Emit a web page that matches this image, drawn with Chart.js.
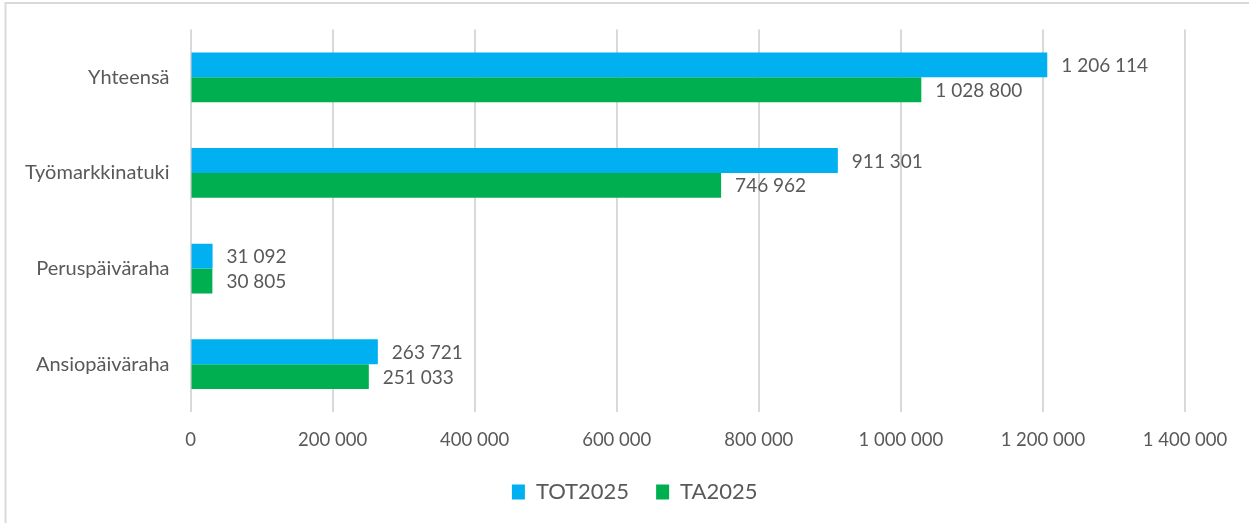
<!DOCTYPE html>
<html>
<head>
<meta charset="utf-8">
<script src="https://cdn.jsdelivr.net/npm/chart.js@4.4.1/dist/chart.umd.min.js"></script>
<style>
  html, body { margin: 0; padding: 0; background: #ffffff; }
  #wrap { width: 1249px; height: 523px; position: relative; }
</style>
</head>
<body>
<div id="wrap"><canvas id="c" width="1249" height="523"></canvas></div>
<script>
const categories = ["Yhteensä", "Työmarkkinatuki", "Peruspäiväraha", "Ansiopäiväraha"];
const seriesNames = ["TOT2025", "TA2025"];
const tot2025 = [1206114, 911301, 31092, 263721];
const ta2025 = [1028800, 746962, 30805, 251033];
const xTicks = [0, 200000, 400000, 600000, 800000, 1000000, 1200000, 1400000];

const TEXT = "#595959";
const FONT = "Lato";

function fmt(v) {
  return String(Math.round(v)).replace(/\B(?=(\d{3})+(?!\d))/g, " ");
}

const frame = {
  id: "frame",
  beforeDraw(chart) {
    const ctx = chart.ctx;
    ctx.save();
    ctx.fillStyle = "#ffffff";
    ctx.fillRect(0, 0, chart.width, chart.height);
    ctx.strokeStyle = "#D9D9D9";
    ctx.lineWidth = 2;
    ctx.beginPath();
    ctx.moveTo(5.5, chart.height + 5);
    ctx.lineTo(5.5, 3);
    ctx.lineTo(chart.width + 5, 3);
    ctx.stroke();
    ctx.restore();
  }
};

const legendShift = {
  id: "legendShift",
  afterLayout(chart) {
    const lg = chart.legend;
    if (lg) {
      lg.left = 84.4;
      lg.width = lg.right - lg.left;
    }
  }
};

const valueLabels = {
  id: "valueLabels",
  afterDatasetsDraw(chart) {
    const ctx = chart.ctx;
    ctx.save();
    ctx.font = "19px " + FONT;
    ctx.fillStyle = TEXT;
    ctx.textAlign = "left";
    ctx.textBaseline = "middle";
    chart.data.datasets.forEach((ds, di) => {
      const meta = chart.getDatasetMeta(di);
      meta.data.forEach((bar, i) => {
        ctx.fillText(fmt(ds.data[i]), bar.x + 14, bar.y + 1);
      });
    });
    ctx.restore();
  }
};

new Chart(document.getElementById("c"), {
  type: "bar",
  data: {
    labels: categories,
    datasets: [
      { label: seriesNames[0], data: tot2025, backgroundColor: "#00B0F0", categoryPercentage: 0.52, barPercentage: 1.0 },
      { label: seriesNames[1], data: ta2025, backgroundColor: "#00B050", categoryPercentage: 0.52, barPercentage: 1.0 }
    ]
  },
  options: {
    indexAxis: "y",
    responsive: false,
    animation: false,
    devicePixelRatio: 1,
    layout: { padding: { left: 5, right: 64, top: 29.5, bottom: 10 } },
    scales: {
      x: {
        min: 0, max: 1400000,
        afterBuildTicks(scale) { scale.ticks = xTicks.map(v => ({ value: v })); },
        afterFit(scale) { scale.height = 42; scale.paddingLeft = 0; scale.paddingRight = 0; },
        grid: { color: "#D9D9D9", lineWidth: 2, drawTicks: false },
        border: { display: false },
        ticks: {
          padding: 17,
          color: TEXT,
          font: { family: FONT, size: 18.5 },
          maxRotation: 0,
          autoSkip: false,
          callback: (v) => fmt(v)
        }
      },
      y: {
        afterFit(scale) { scale.width = 185.5; scale.paddingTop = 0; scale.paddingBottom = 0; },
        grid: { display: false, drawTicks: false },
        border: { display: false },
        ticks: {
          padding: 21,
          color: TEXT,
          font: { family: FONT, size: 20 }
        }
      }
    },
    plugins: {
      legend: {
        position: "bottom",
        labels: {
          boxWidth: 13,
          boxHeight: 15,
          padding: 27,
          color: TEXT,
          font: { family: FONT, size: 22 }
        }
      },
      tooltip: { enabled: false },
      title: { display: false }
    }
  },
  plugins: [frame, legendShift, valueLabels]
});
</script>
</body>
</html>
